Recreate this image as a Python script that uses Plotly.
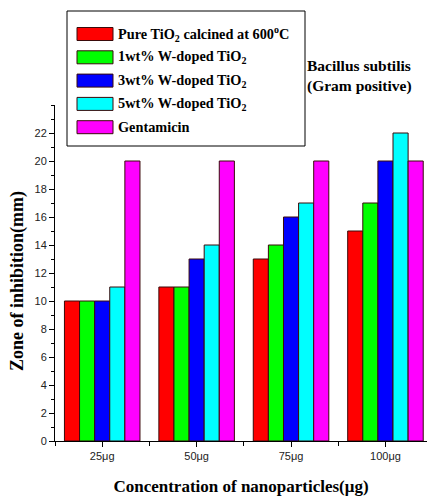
import plotly.graph_objects as go

categories = ["25μg", "50μg", "75μg", "100μg"]
series_names = [
    "Pure TiO<sub>2</sub> calcined at 600<sup>o</sup>C",
    "1wt% W-doped TiO<sub>2</sub>",
    "3wt% W-doped TiO<sub>2</sub>",
    "5wt% W-doped TiO<sub>2</sub>",
    "Gentamicin",
]
pure_tio2 = [10, 11, 13, 15]
w1 = [10, 11, 14, 17]
w3 = [10, 13, 16, 20]
w5 = [11, 14, 17, 22]
gentamicin = [20, 20, 20, 20]
series_values = [pure_tio2, w1, w3, w5, gentamicin]
colors = ["#ff0000", "#00ff00", "#0000ff", "#00ffff", "#ff00ff"]
y_ticks = list(range(0, 23, 2))

xpos = list(range(len(categories)))

SERIF = "Times New Roman, Liberation Serif, serif"

fig = go.Figure()
for name, vals, col in zip(series_names, series_values, colors):
    fig.add_trace(go.Bar(x=xpos, y=vals, name=name, marker=dict(color=col, line=dict(color="#3a0a0a", width=1)),
                         showlegend=False))

# manual legend
legend_font = dict(family=SERIF, size=14.3, color="black")
row0 = 34
step = 23.3
for i, (name, col) in enumerate(zip(series_names, colors)):
    yc = row0 + i * step
    fig.add_shape(type="rect", xref="paper", yref="paper",
                  x0=(77 - 55) / 372, x1=(113 - 55) / 372,
                  y0=(441 - (yc + 6.5)) / 336, y1=(441 - (yc - 6.5)) / 336,
                  fillcolor=col, line=dict(color="#3a0a0a", width=1))
    fig.add_annotation(xref="paper", yref="paper", x=(116 - 55) / 372, y=(441 - yc) / 336,
                       text="<b>" + name + "</b>", showarrow=False, xanchor="left", yanchor="middle",
                       font=legend_font)
fig.add_shape(type="rect", xref="paper", yref="paper",
              x0=(67 - 55) / 372, x1=(305 - 55) / 372,
              y0=(441 - 146) / 336, y1=(441 - 11) / 336,
              line=dict(color="black", width=1), fillcolor="rgba(0,0,0,0)")

fig.add_annotation(xref="paper", yref="paper", x=(305 - 55) / 372, y=(441 - 76) / 336,
                   text="<b>Bacillus subtilis<br>(Gram positive)</b>", showarrow=False,
                   xanchor="left", yanchor="middle", align="left",
                   font=dict(family=SERIF, size=15.5, color="black"))

# y-axis title placed as rotated annotation to match its offset position
fig.add_annotation(xref="paper", yref="paper", x=(17 - 55) / 372, y=(441 - 281) / 336,
                   text="<b>Zone of inhibition(mm)</b>", showarrow=False, textangle=-90,
                   xanchor="center", yanchor="middle",
                   font=dict(family=SERIF, size=18, color="black"))

fig.update_layout(
    width=427, height=497,
    margin=dict(l=55, r=0, t=105, b=56),
    plot_bgcolor="white", paper_bgcolor="white",
    barmode="group", bargap=0.2, bargroupgap=0,
    font=dict(family="Liberation Sans", size=11, color="#222"),
)
fig.update_xaxes(
    range=[-0.5, 3.44], tickvals=xpos, ticktext=categories,
    showline=True, linecolor="black", linewidth=1, ticks="outside", ticklen=5, tickcolor="black",
    minor=dict(ticks="outside", ticklen=4, tick0=0.5, dtick=1, tickcolor="black"),
    showgrid=False, zeroline=False,
    title=dict(text="<b>Concentration of nanoparticles(μg)</b>", standoff=18,
               font=dict(family=SERIF, size=17, color="black")),
)
fig.update_yaxes(
    range=[0, 24], tickvals=y_ticks,
    showline=True, linecolor="black", linewidth=1, ticks="outside", ticklen=5, tickcolor="black",
    minor=dict(ticks="outside", ticklen=3, dtick=1, tickcolor="black"),
    showgrid=False, zeroline=False,
)

fig.write_html("out.html")
